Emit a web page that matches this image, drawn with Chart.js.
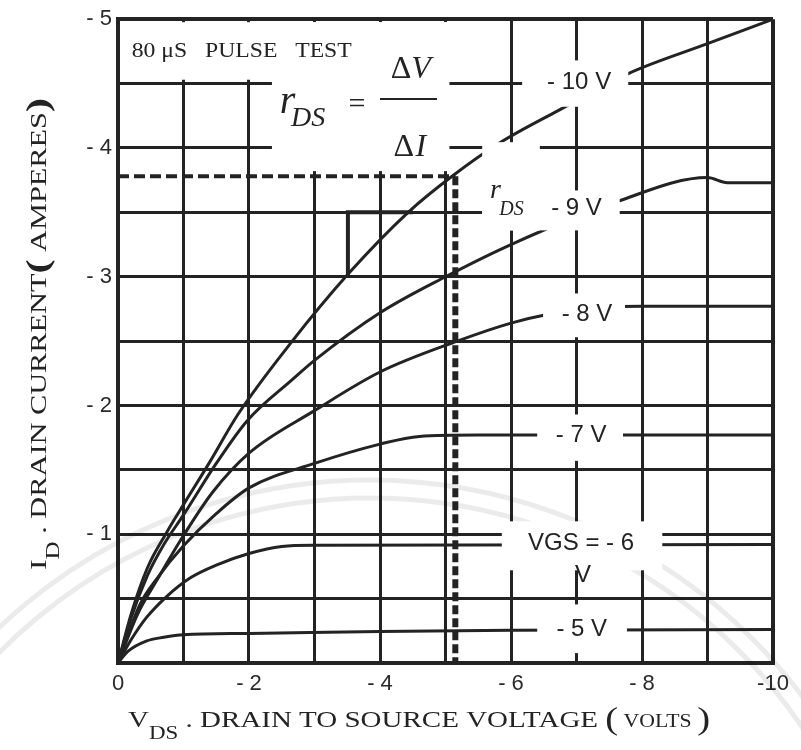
<!DOCTYPE html>
<html>
<head>
<meta charset="utf-8">
<script src="https://cdn.jsdelivr.net/npm/chart.js@4.4.1/dist/chart.umd.min.js"></script>
<style>
  html, body { margin: 0; padding: 0; background: #fff; }
</style>
</head>
<body>
<canvas id="chart" width="801" height="750"></canvas>
<script>
// drain curves: V_DS (volts) and I_D (amperes), one pair per gate voltage
const vds10 = [0, -0.2, -0.45, -0.75, -1.0, -1.4, -1.83, -2.63, -3.53, -4.43, -5.1, -5.83, -6.72, -7.8, -9.0, -10];
const id10  = [0, -0.38, -0.74, -1.02, -1.23, -1.56, -1.93, -2.48, -3.03, -3.5, -3.78, -4.04, -4.29, -4.58, -4.81, -5.0];

const vds9 = [0, -0.2, -0.45, -0.7, -1.0, -1.5, -1.97, -2.66, -3.0, -4.0, -5.0, -6.0, -7.6, -9.0, -9.3, -10];
const id9  = [0, -0.35, -0.68, -0.92, -1.15, -1.55, -1.88, -2.2, -2.35, -2.72, -3.0, -3.25, -3.58, -3.77, -3.73, -3.73];

const vds8 = [0, -0.3, -0.59, -1.0, -1.45, -2.0, -3.0, -4.0, -5.18, -6.0, -6.5, -7.3, -8.0, -10];
const id8  = [0, -0.38, -0.64, -0.99, -1.33, -1.63, -1.96, -2.26, -2.5, -2.64, -2.7, -2.76, -2.77, -2.77];

const vds7 = [0, -0.33, -0.6, -1.0, -1.5, -2.0, -3.0, -4.0, -4.6, -5.5, -10];
const id7  = [0, -0.45, -0.66, -0.91, -1.16, -1.36, -1.55, -1.7, -1.76, -1.77, -1.77];

const vds6 = [0, -0.2, -0.43, -0.75, -1.1, -1.5, -2.0, -2.5, -3.0, -10];
const id6  = [0, -0.18, -0.35, -0.52, -0.66, -0.76, -0.85, -0.905, -0.915, -0.92];

const vds5 = [0, -0.15, -0.43, -0.7, -1.0, -2.0, -4.0, -6.0, -10];
const id5  = [0, -0.09, -0.17, -0.2, -0.22, -0.23, -0.245, -0.255, -0.26];

// operating point (dashed) and the r_DS slope triangle
const opV = [0, -5.15, -5.15];
const opI = [-3.78, -3.78, 0];
const triV = [-3.51, -3.51, -4.5];
const triI = [-3.0, -3.5, -3.5];

const gateLabels = ['- 10 V', '- 9 V', '- 8 V', '- 7 V', 'VGS = - 6', '- 5 V'];

const INK = '#232323';
const SANS = '"Liberation Sans", Arial, sans-serif';
const SERIF = '"Liberation Serif", "Times New Roman", serif';

const pts = (xs, ys) => xs.map((v, i) => ({x: v, y: ys[i]}));
const curve = (xs, ys) => ({
  data: pts(xs, ys),
  showLine: true,
  borderColor: INK,
  borderWidth: 3,
  pointRadius: 0,
  cubicInterpolationMode: 'monotone',
  fill: false,
});

const fmt = v => v === 0 ? '0' : (Math.abs(v) >= 10 ? '-' + Math.abs(v) : '- ' + Math.abs(v));

// white patches where the original breaks the grid for its labels (V1, V2, I1, I2)
const patches = [
  [0, -5.9, -5, -4.53],
  [-2.35, -5.06, -5, -3.82],
  [-6.17, -7.79, -4.68, -4.32],
  [-5.56, -6.44, -4.045, -3.36],
  [-5.56, -7.66, -3.67, -3.36],
  [-6.49, -7.74, -2.87, -2.53],
  [-6.4, -7.71, -1.93, -1.57],
  [-5.86, -8.31, -1.10, -0.72],
  [-6.4, -7.77, -0.455, -0.077],
];
// where each gate label sits (V, I)
const labelAt = [[-7.04, -4.51], [-7.0, -3.53], [-7.16, -2.71], [-7.07, -1.77], [-7.07, -0.93], [-7.08, -0.26]];

const notes = {
  id: 'notes',
  beforeDatasetsDraw(chart) {
    // faint ring of the watermark seal behind the curves
    const {ctx} = chart;
    ctx.save();
    ctx.strokeStyle = 'rgba(0,0,0,0.08)';
    ctx.lineWidth = 5;
    [540, 522].forEach(r => {
      ctx.beginPath();
      ctx.arc(370, 1020, r, Math.PI * 1.03, Math.PI * 1.97);
      ctx.stroke();
    });
    ctx.restore();
  },
  afterDatasetsDraw(chart) {
    const {ctx, chartArea: a, scales: {x, y}} = chart;
    const X = v => x.getPixelForValue(v), Y = i => y.getPixelForValue(i);
    ctx.save();
    ctx.fillStyle = '#fff';
    patches.forEach(p => {
      const l = Math.max(Math.min(X(p[0]), X(p[1])), a.left + 3);
      const r = Math.min(Math.max(X(p[0]), X(p[1])), a.right - 3);
      const t = Math.max(Math.min(Y(p[2]), Y(p[3])), a.top + 3);
      const b = Math.min(Math.max(Y(p[2]), Y(p[3])), a.bottom - 3);
      ctx.fillRect(l, t, r - l, b - t);
    });

    ctx.fillStyle = INK;
    ctx.textBaseline = 'middle';
    ctx.textAlign = 'center';
    ctx.font = '24px ' + SANS;
    gateLabels.forEach((s, i) => ctx.fillText(s, X(labelAt[i][0]), Y(labelAt[i][1])));
    ctx.fillText('V', X(-7.1), Y(-0.68));

    ctx.textBaseline = 'alphabetic';
    ctx.textAlign = 'left';
    ctx.font = '21px ' + SERIF;
    const pulse = '80 \u03bcS   PULSE   TEST';
    const pw = ctx.measureText(pulse).width;
    ctx.save();
    ctx.translate(X(-0.21), Y(-4.71));
    ctx.scale(220 / pw, 1);
    ctx.fillText(pulse, 0, 0);
    ctx.restore();

    // r_DS = dV / dI
    ctx.font = 'italic 40px ' + SERIF;
    ctx.fillText('r', X(-2.47), Y(-4.27));
    ctx.font = 'italic 28px ' + SERIF;
    ctx.fillText('DS', X(-2.64), Y(-4.17));
    ctx.textAlign = 'center';
    ctx.font = '30px ' + SERIF;
    ctx.fillText('=', X(-3.65), Y(-4.27));
    ctx.font = '32px ' + SERIF;
    ctx.fillText('\u0394', X(-4.46) - 9, Y(-4.54));
    ctx.fillText('\u0394', X(-4.47) - 7, Y(-3.94));
    ctx.font = 'italic 32px ' + SERIF;
    ctx.fillText('V', X(-4.46) + 11, Y(-4.54));
    ctx.fillText('I', X(-4.47) + 10, Y(-3.94));
    ctx.strokeStyle = INK;
    ctx.lineWidth = 2;
    ctx.beginPath();
    ctx.moveTo(X(-4.0), Y(-4.38));
    ctx.lineTo(X(-4.87), Y(-4.38));
    ctx.stroke();

    ctx.textAlign = 'left';
    ctx.font = 'italic 28px ' + SERIF;
    ctx.fillText('r', X(-5.68), Y(-3.61));
    ctx.font = 'italic 20px ' + SERIF;
    ctx.fillText('DS', X(-5.82), Y(-3.48));
    ctx.restore();
  },
  afterDraw(chart) {
    const {ctx, chartArea: a} = chart;
    // run of text pieces: [text, font, baseline shift]
    const run = (pieces, x0, y0, len, rot) => {
      ctx.save();
      let w = 0;
      pieces.forEach(p => { ctx.font = p[1]; w += ctx.measureText(p[0]).width; });
      ctx.translate(x0, y0);
      if (rot) ctx.rotate(-Math.PI / 2);
      ctx.scale(len / w, 1);
      ctx.fillStyle = INK;
      ctx.textAlign = 'left';
      ctx.textBaseline = 'alphabetic';
      let cx = 0;
      pieces.forEach(p => {
        ctx.font = p[1];
        ctx.fillText(p[0], cx, p[2]);
        cx += ctx.measureText(p[0]).width;
      });
      ctx.restore();
    };
    run([
      ['V', '24px ' + SERIF, 0],
      ['DS', '19px ' + SERIF, 12],
      [' . DRAIN TO SOURCE VOLTAGE ', '24px ' + SERIF, 0],
      ['(', '32px ' + SERIF, 2],
      [' VOLTS ', '18px ' + SERIF, 0],
      [')', '32px ' + SERIF, 2],
    ], a.left + 10, 727, 582, false);
    run([
      ['I', '24px ' + SERIF, 0],
      ['D', '19px ' + SERIF, 13],
      [' . DRAIN CURRENT', '23px ' + SERIF, 0],
      ['(', 'bold 32px ' + SERIF, 2],
      [' AMPERES', '23px ' + SERIF, 0],
      [')', 'bold 32px ' + SERIF, 2],
    ], 46, 570, 472, true);
  }
};

new Chart(document.getElementById('chart'), {
  type: 'scatter',
  data: {
    datasets: [
      curve(vds10, id10),
      curve(vds9, id9),
      curve(vds8, id8),
      curve(vds7, id7),
      curve(vds6, id6),
      curve(vds5, id5),
      {
        data: pts(opV.slice(0, 2), opI.slice(0, 2)),
        showLine: true, borderColor: INK, borderWidth: 4, borderDash: [11, 5], pointRadius: 0,
      },
      {
        data: pts(opV.slice(1), opI.slice(1)),
        showLine: true, borderColor: INK, borderWidth: 6, borderDash: [9, 4], pointRadius: 0,
      },
      {
        data: pts(triV, triI),
        showLine: true, borderColor: INK, borderWidth: 4, pointRadius: 0,
      },
    ],
  },
  options: {
    responsive: false,
    animation: false,
    layout: {padding: {top: 15, right: 28, left: 0, bottom: 0}},
    plugins: {legend: {display: false}, tooltip: {enabled: false}},
    scales: {
      x: {
        type: 'linear', min: -10, max: 0, reverse: true,
        ticks: {
          stepSize: 1, autoSkip: false, maxRotation: 0, padding: 8,
          color: '#2a2a2a', font: {family: SANS, size: 22},
          callback: v => (v % 2 === 0 ? fmt(v) : ''),
        },
        grid: {color: INK, lineWidth: c => (c.tick && c.tick.value === -10 ? 4 : 3), drawTicks: false},
        border: {display: true, color: INK, width: 4},
        afterFit(s) { s.height = 87; },
      },
      y: {
        type: 'linear', min: -5, max: 0, reverse: true,
        ticks: {
          stepSize: 0.5, autoSkip: false, padding: 6,
          color: '#2a2a2a', font: {family: SANS, size: 22},
          callback: v => (Number.isInteger(v) && v !== 0 ? fmt(v) : ''),
        },
        grid: {color: INK, lineWidth: c => (c.tick && c.tick.value === -5 ? 4 : 3), drawTicks: false},
        border: {display: true, color: INK, width: 4},
        afterFit(s) { s.width = 118; },
      },
    },
  },
  plugins: [notes],
});
</script>
</body>
</html>
